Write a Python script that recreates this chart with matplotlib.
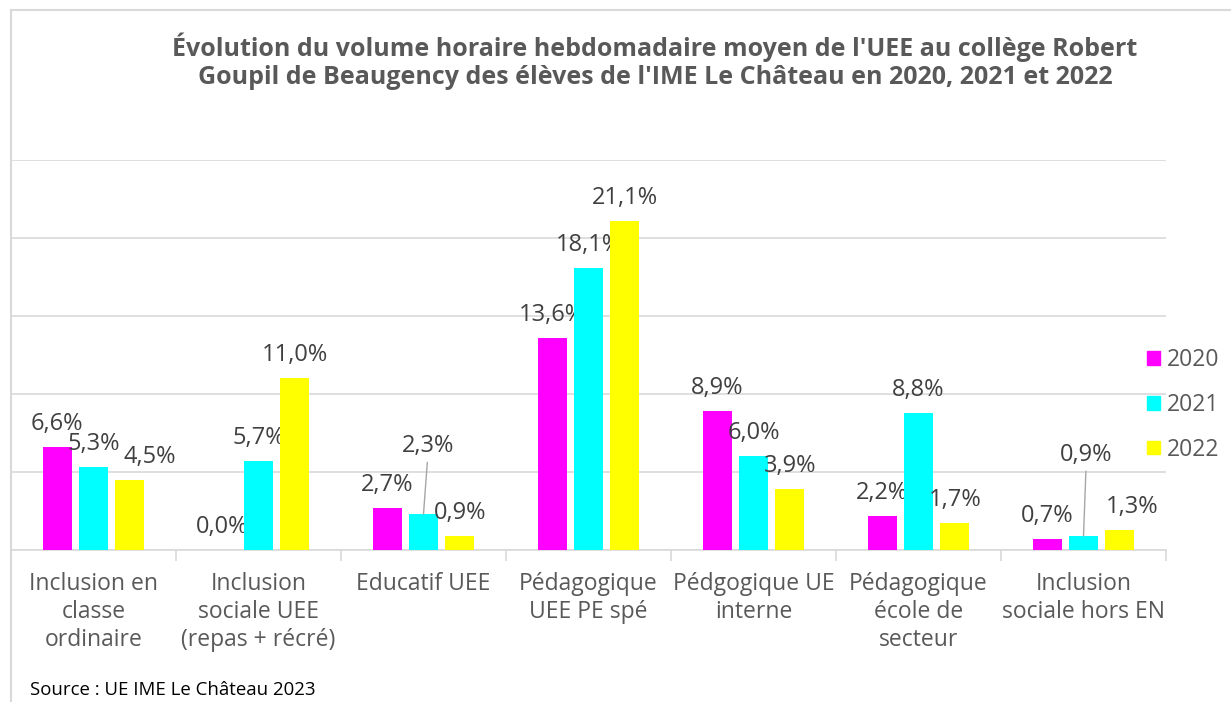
import matplotlib
matplotlib.use("Agg")
import numpy as np
from matplotlib import pyplot as plt
from matplotlib.lines import Line2D
from matplotlib.patches import Patch

# données
categories = [
    "Inclusion en\nclasse\nordinaire",
    "Inclusion\nsociale UEE\n(repas + récré)",
    "Educatif UEE",
    "Pédagogique\nUEE PE spé",
    "Pédgogique UE\ninterne",
    "Pédagogique\nécole de\nsecteur",
    "Inclusion\nsociale hors EN",
]
years = ["2020", "2021", "2022"]
v2020 = [6.6, 0.0, 2.7, 13.6, 8.9, 2.2, 0.7]
v2021 = [5.3, 5.7, 2.3, 18.1, 6.0, 8.8, 0.9]
v2022 = [4.5, 11.0, 0.9, 21.1, 3.9, 1.7, 1.3]
colors = ["#FF00FF", "#00FFFF", "#FFFF00"]

title = ("Évolution du volume horaire hebdomadaire moyen de l'UEE au collège Robert\n"
         "Goupil de Beaugency des élèves de l'IME Le Château en 2020, 2021 et 2022")
source = "Source : UE IME Le Château 2023"

# décalages particuliers des étiquettes (série, catégorie) -> (dx, dy) en pixels
label_shift = {(2, 0): (20, 0), (1, 2): (5, 45), (1, 6): (3, 58), (2, 6): (12, 0)}
leaders = {(1, 2), (1, 6)}

plt.rcParams["font.family"] = ["Open Sans", "DejaVu Sans"]
grid_c = "#d9d9d9"

fig = plt.figure(figsize=(12.31, 7.02), dpi=100)
W, H = 1231, 702
ax = fig.add_axes([11 / W, 152 / H, 1155 / W, 390 / H])

x = np.arange(len(categories))
step = 0.221
width = 0.176
series = [v2020, v2021, v2022]
for i, vals in enumerate(series):
    pos = x + (i - 1) * step
    ax.bar(pos, vals, width, color=colors[i], label=years[i], zorder=3)
    for j, v in enumerate(vals):
        dx, dy = label_shift.get((i, j), (0, 0))
        txt = f"{v:.1f}%".replace(".", ",")
        arrow = None
        if (i, j) in leaders:
            arrow = dict(arrowstyle="-", color="#a6a6a6", lw=1, shrinkA=1, shrinkB=0)
        ax.annotate(txt, xy=(pos[j], v), xytext=(dx, 23 + dy),
                    textcoords="offset pixels", ha="center", va="center",
                    fontsize=17, color="#404040", arrowprops=arrow)

ax.set_xlim(-0.5, len(categories) - 0.5)
ax.set_ylim(0, 25)
ax.set_yticks(np.arange(0, 26, 5))
ax.yaxis.grid(True, color=grid_c, lw=1.2, zorder=0)
ax.tick_params(axis="y", left=False, labelleft=False)
for s in ["top", "right", "left"]:
    ax.spines[s].set_visible(False)
ax.spines["bottom"].set_color(grid_c)
ax.spines["bottom"].set_linewidth(1.2)

ax.set_xticks(x)
ax.set_xticklabels(categories, fontsize=16.5, color="#595959", linespacing=1.22)
ax.tick_params(axis="x", length=0, pad=16)
ax.set_xticks(np.arange(-0.5, len(categories)), minor=True)
ax.tick_params(axis="x", which="minor", length=8, color=grid_c, width=1.2)

handles = [Patch(color=c, label=y) for c, y in zip(colors, years)]
fig.legend(handles=handles, loc="center left", bbox_to_anchor=(1136 / W, 1 - 405 / H),
           frameon=False, fontsize=16.5, labelcolor="#595959", handlelength=0.55,
           handleheight=0.55, handletextpad=0.3, labelspacing=0.9, borderpad=0)

fig.text(655 / W, 1 - 61 / H, title, ha="center", va="center", fontsize=18,
         fontweight="bold", color="#595959", linespacing=1.15)
fig.text(30 / W, 1 - 690 / H, source, ha="left", va="center", fontsize=13.4, color="black")

# cadre
fig.add_artist(Line2D([11 / W, 11 / W], [0, 1 - 10 / H], color=grid_c, lw=1.5))
fig.add_artist(Line2D([11 / W, 1], [1 - 10 / H, 1 - 10 / H], color=grid_c, lw=1.5))

fig.savefig("out.png", dpi=100)
